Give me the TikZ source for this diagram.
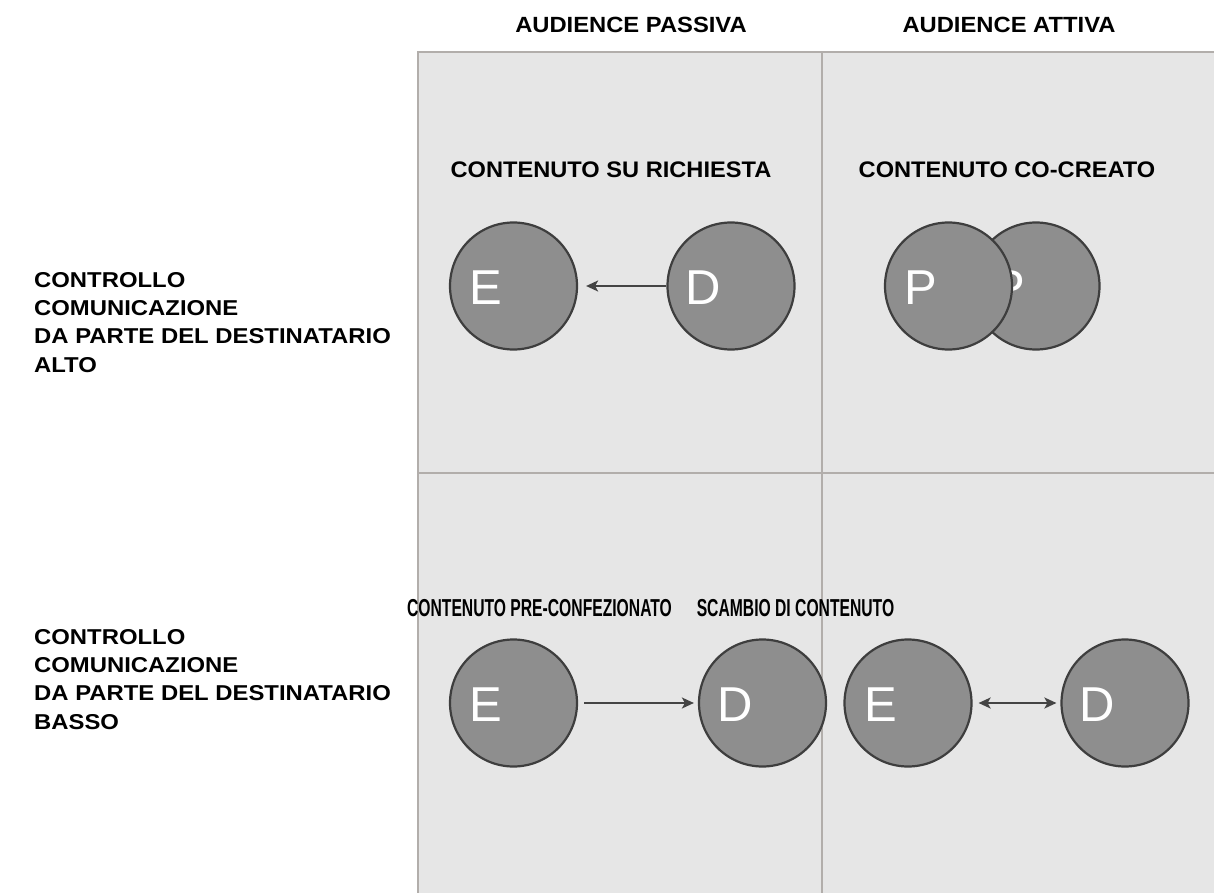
\documentclass[tikz,border=0pt]{standalone}
\usepackage{fontspec}
\setmainfont{Liberation Sans}
\usetikzlibrary{arrows.meta}
\definecolor{cellbg}{HTML}{E6E6E6}
\definecolor{gridc}{HTML}{B2AEAB}
\definecolor{discfill}{HTML}{8E8E8E}
\definecolor{discline}{HTML}{3E3E3E}
\definecolor{arrowc}{HTML}{444444}
\newcommand{\hsc}[2]{\scalebox{#1}[1]{#2}}
\begin{document}
\begin{tikzpicture}[x=1pt,y=-1pt,
  headtxt/.style={font=\fontsize{22}{25}\selectfont\bfseries, inner sep=0, anchor=base},
  sidetxt/.style={font=\fontsize{21.5}{24}\selectfont\bfseries, inner sep=0, anchor=base west},
  celltxt/.style={font=\fontsize{22.5}{25}\selectfont\bfseries, inner sep=0, anchor=base},
  celltxtb/.style={font=\fontsize{24.5}{28}\selectfont\bfseries, inner sep=0, anchor=base},
  disc/.style={circle, minimum size=127pt, inner sep=0, fill=discfill, draw=discline, line width=2.2pt},
  lettr/.style={text=white, font=\fontsize{49}{50}\selectfont, inner sep=0, xshift=-27.5pt, yshift=-2pt},
  conn/.style={draw=arrowc, line width=2pt, -{Stealth[length=12pt,width=11pt,inset=3pt]}},
  gridline/.style={draw=gridc, line width=2pt}
]
\useasboundingbox (0,0) rectangle (1214,893);
% grid
\fill[cellbg] (418,52) rectangle (1214,893);
\draw[gridline] (418,893) -- (418,52) -- (1214,52);
\draw[gridline] (822,52) -- (822,893);
\draw[gridline] (418,473) -- (1214,473);

% column headings
\node[headtxt] (hPass) at (631,33) {\hsc{1.08}{AUDIENCE PASSIVA}};
\node[headtxt] (hAtt) at (1009,33) {\hsc{1.08}{AUDIENCE ATTIVA}};

% row labels
\node[sidetxt] (t1) at (34,287) {\hsc{1.11}{CONTROLLO}};
\node[sidetxt] (t2) at (34,315.5) {\hsc{1.11}{COMUNICAZIONE}};
\node[sidetxt] (t3) at (34,343.5) {\hsc{1.11}{DA PARTE DEL DESTINATARIO}};
\node[sidetxt] (t4) at (34,372) {\hsc{1.11}{ALTO}};
\node[sidetxt] (b1) at (34,644) {\hsc{1.11}{CONTROLLO}};
\node[sidetxt] (b2) at (34,672.5) {\hsc{1.11}{COMUNICAZIONE}};
\node[sidetxt] (b3) at (34,700.5) {\hsc{1.11}{DA PARTE DEL DESTINATARIO}};
\node[sidetxt] (b4) at (34,729) {\hsc{1.11}{BASSO}};

% cell titles
\node[celltxt] (cTL) at (611,178) {\hsc{1.05}{CONTENUTO SU RICHIESTA}};
\node[celltxt] (cTR) at (1007,178) {\hsc{1.05}{CONTENUTO CO-CREATO}};
\node[celltxtb] (cBL) at (539.5,616) {\hsc{0.64}{CONTENUTO PRE-CONFEZIONATO}};
\node[celltxtb] (cBR) at (795.5,616) {\hsc{0.64}{SCAMBIO DI CONTENUTO}};

% top-left
\node[disc, label={[lettr]center:E}] (eTop) at (513.5,286) {};
\node[disc, label={[lettr]center:D}] (dTop) at (731,286) {};
\draw[conn, shorten >=8pt] (dTop) -- (eTop);

% top-right (overlapping)
\node[disc, label={[lettr]center:P}] (p2) at (1036,286) {};
\node[disc, label={[lettr]center:P}] (p1) at (948.5,286) {};

% bottom-left
\node[disc, label={[lettr]center:E}] (eBL) at (513.5,703) {};
\node[disc, label={[lettr]center:D}] (dBL) at (762.5,703) {};
\draw[conn, shorten <=6pt, shorten >=4pt] (eBL) -- (dBL);

% bottom-right
\node[disc, label={[lettr]center:E}] (eBR) at (908,703) {};
\node[disc, label={[lettr]center:D}] (dBR) at (1125,703) {};
\draw[conn, {Stealth[length=12pt,width=11pt,inset=3pt]}-{Stealth[length=12pt,width=11pt,inset=3pt]}, shorten <=6pt, shorten >=4pt] (eBR) -- (dBR);
\end{tikzpicture}
\end{document}
